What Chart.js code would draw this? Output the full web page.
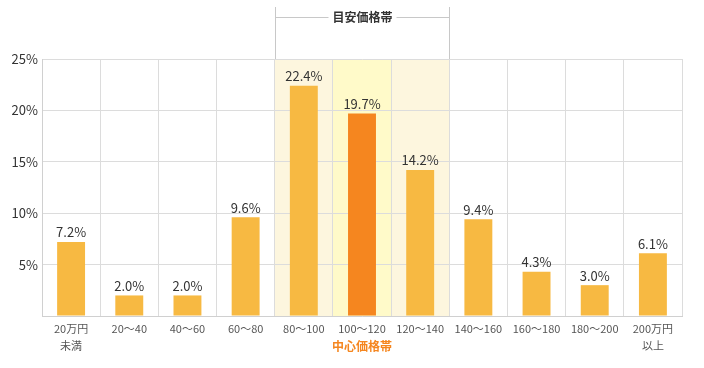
<!DOCTYPE html>
<html>
<head>
<meta charset="utf-8">
<script src="https://cdn.jsdelivr.net/npm/chart.js@4"></script>
<style>
  html, body { margin: 0; padding: 0; background: #fff; }
  #wrap { width: 704px; height: 368px; }
</style>
</head>
<body>
<div id="wrap"><canvas id="priceChart" width="704" height="368"></canvas></div>
<script>
// カテゴリと値
const categories = [['20万円', '未満'], '20～40', '40～60', '60～80', '80～100', '100～120', '120～140', '140～160', '160～180', '180～200', ['200万円', '以上']];
const shares = [7.2, 2.0, 2.0, 9.6, 22.4, 19.7, 14.2, 9.4, 4.3, 3.0, 6.1];
const yTicks = [0, 5, 10, 15, 20, 25];
const guideRange = [4, 6];   // 目安価格帯
const centerIndex = 5;       // 中心価格帯

const FONT = '"Noto Sans CJK JP", "Noto Sans", sans-serif';

// 背景の帯・ラベル・注釈
const decorPlugin = {
    id: 'decor',
    beforeDraw(chart) {
        const ctx = chart.ctx;
        const x = chart.scales.x;
        const area = chart.chartArea;
        const half = (x.getPixelForValue(1) - x.getPixelForValue(0)) / 2;
        ctx.save();
        for (let i = guideRange[0]; i <= guideRange[1]; i++) {
            const cx = x.getPixelForValue(i);
            ctx.fillStyle = i === centerIndex ? '#fffac9' : '#fdf6de';
            ctx.fillRect(cx - half, area.top, half * 2, area.bottom - area.top);
        }
        ctx.restore();
    },
    afterDraw(chart) {
        const ctx = chart.ctx;
        const x = chart.scales.x;
        const area = chart.chartArea;
        const half = (x.getPixelForValue(1) - x.getPixelForValue(0)) / 2;
        ctx.save();

        // 値ラベル
        ctx.font = '13px ' + FONT;
        ctx.fillStyle = '#333';
        ctx.textAlign = 'center';
        ctx.textBaseline = 'bottom';
        const meta = chart.getDatasetMeta(0);
        meta.data.forEach((bar, i) => {
            ctx.fillText(shares[i].toFixed(1) + '%', bar.x, bar.y - 3);
        });

        // 目安価格帯の括弧
        const left = Math.round(x.getPixelForValue(guideRange[0]) - half) + 0.5;
        const right = Math.round(x.getPixelForValue(guideRange[1]) + half) + 0.5;
        const mid = (left + right) / 2;
        const lineY = 17.5;
        ctx.strokeStyle = '#c8c8c8';
        ctx.lineWidth = 1;
        ctx.beginPath();
        ctx.moveTo(left, 7);
        ctx.lineTo(left, area.top);
        ctx.moveTo(right, 7);
        ctx.lineTo(right, area.top);
        ctx.moveTo(left, lineY);
        ctx.lineTo(mid - 34, lineY);
        ctx.moveTo(mid + 34, lineY);
        ctx.lineTo(right, lineY);
        ctx.stroke();
        ctx.font = 'bold 12px ' + FONT;
        ctx.fillStyle = '#333';
        ctx.textBaseline = 'middle';
        ctx.fillText('目安価格帯', mid, lineY);

        // 中心価格帯
        ctx.font = 'bold 12px ' + FONT;
        ctx.fillStyle = '#f5861f';
        ctx.fillText('中心価格帯', x.getPixelForValue(centerIndex), 346);
        ctx.restore();
    }
};

const ctx = document.getElementById('priceChart').getContext('2d');
new Chart(ctx, {
    type: 'bar',
    data: {
        labels: categories,
        datasets: [{
            data: shares,
            backgroundColor: shares.map((v, i) => i === centerIndex ? '#f5861f' : '#f7b942'),
            barPercentage: 0.48,
            categoryPercentage: 1.0,
        }]
    },
    options: {
        responsive: false,
        animation: false,
        layout: { padding: { top: 59, right: 22, left: 0, bottom: 0 } },
        plugins: { legend: { display: false }, tooltip: { enabled: false } },
        scales: {
            x: {
                grid: { color: '#dcdcdc', offset: true, drawTicks: false },
                border: { color: '#d0d0d0' },
                ticks: {
                    color: '#555',
                    font: { family: FONT, size: 11, lineHeight: 1.5 },
                    padding: 5,
                    maxRotation: 0,
                    autoSkip: false
                },
                afterFit(scale) { scale.height = 52; }
            },
            y: {
                min: yTicks[0],
                max: yTicks[yTicks.length - 1],
                afterBuildTicks(scale) { scale.ticks = yTicks.map(v => ({ value: v })); },
                grid: { color: '#dcdcdc', drawTicks: false },
                border: { color: '#d0d0d0' },
                ticks: {
                    color: '#333',
                    font: { family: FONT, size: 13 },
                    padding: 4,
                    callback: v => v === 0 ? '' : v + '%'
                },
                afterFit(scale) { scale.width = 42; }
            }
        }
    },
    plugins: [decorPlugin]
});
</script>
</body>
</html>
